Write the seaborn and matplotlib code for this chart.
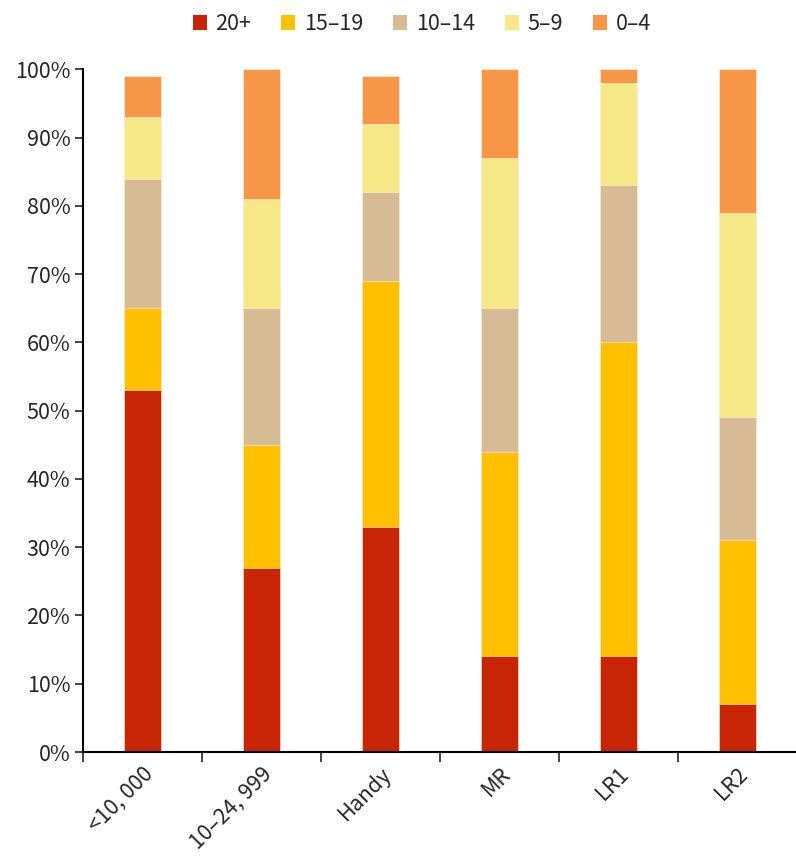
import matplotlib
matplotlib.use("Agg")
import matplotlib.pyplot as plt
import seaborn as sns
import numpy as np
import pandas as pd
from matplotlib.patches import Patch
from matplotlib.ticker import FixedLocator, PercentFormatter

categories = ["<10, 000", "10–24, 999", "Handy", "MR", "LR1", "LR2"]
series_names = ["20+", "15–19", "10–14", "5–9", "0–4"]
v_20p = [53, 27, 33, 14, 14, 7]
v_15_19 = [12, 18, 36, 30, 46, 24]
v_10_14 = [19, 20, 13, 21, 23, 18]
v_5_9 = [9, 16, 10, 22, 15, 30]
v_0_4 = [6, 19, 7, 13, 2, 21]
colors = ["#C82506", "#FFC000", "#D7BB95", "#F6E886", "#F79646"]

sns.set_style("white")
plt.rcParams['font.family'] = ['Noto Sans CJK SC', 'DejaVu Sans']

series_vals = [v_20p, v_15_19, v_10_14, v_5_9, v_0_4]
cum = np.cumsum(np.array(series_vals, dtype=float), axis=0)

fig = plt.figure(figsize=(7.96, 8.63), dpi=100)
ax = fig.add_axes([0.104, 0.1286, 0.897, 0.7911])

for i in reversed(range(len(series_names))):
    df = pd.DataFrame({"cat": categories, "val": cum[i]})
    sns.barplot(data=df, x="cat", y="val", order=categories, color=colors[i],
                width=0.31, saturation=1, edgecolor="#FFF4E8", linewidth=0.4, ax=ax)

ax.set_xlim(-0.5, len(categories) - 0.5)
ax.set_ylim(0, 100)
ax.set_yticks(np.arange(0, 101, 10))
ax.yaxis.set_major_formatter(PercentFormatter(decimals=0))
ax.set_xlabel("")
ax.set_ylabel("")
for s in ["top", "right"]:
    ax.spines[s].set_visible(False)
for s in ["left", "bottom"]:
    ax.spines[s].set_color("black")
    ax.spines[s].set_linewidth(1.5)

ax.tick_params(axis="y", which="major", direction="out", length=6, width=1.2,
               labelsize=15.5, left=True, pad=3)
ax.tick_params(axis="x", which="major", length=0, labelsize=15.5, pad=8)
ax.xaxis.set_minor_locator(FixedLocator(np.arange(-0.5, len(categories), 1.0)))
ax.tick_params(axis="x", which="minor", direction="out", length=7, width=1.2, bottom=True)
for lbl in ax.get_xticklabels():
    lbl.set_rotation(45)
    lbl.set_ha("right")
    lbl.set_rotation_mode("anchor")

handles = [Patch(facecolor=c, edgecolor="none", label=n) for c, n in zip(colors, series_names)]
fig.legend(handles=handles, loc="center", bbox_to_anchor=(0.53, 0.972), ncol=5,
           frameon=False, fontsize=15.5, handlelength=0.65, handleheight=0.65,
           handletextpad=0.4, columnspacing=1.4)

fig.savefig("out.png", dpi=100)
